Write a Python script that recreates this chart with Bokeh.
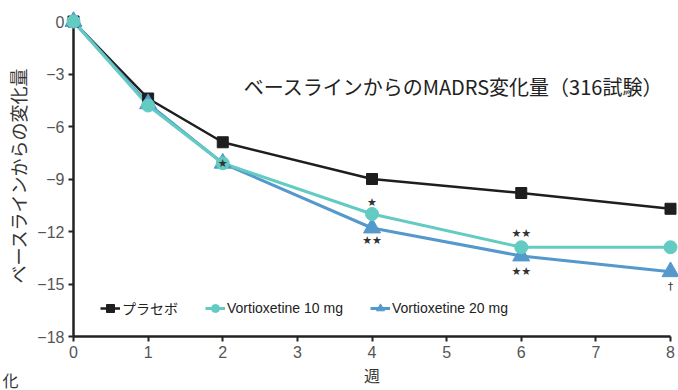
from bokeh.plotting import figure
from bokeh.models import Range1d, Legend, LegendItem, Label, ColumnDataSource, FixedTicker
from bokeh.embed import file_html
from bokeh.resources import INLINE
from bokeh.core.properties import value

weeks = [0, 1, 2, 4, 6, 8]
placebo = [0, -4.4, -6.9, -9.0, -9.8, -10.7]
vort10 = [0, -4.8, -8.1, -11.0, -12.9, -12.9]
vort20 = [0, -4.7, -8.1, -11.8, -13.4, -14.3]
x_ticks = [0, 1, 2, 3, 4, 5, 6, 7, 8]
y_ticks = [0, -3, -6, -9, -12, -15, -18]

# significance marks
ann_week = [2, 4, 4, 6, 6, 8]
ann_series = ["v10", "v10", "v20", "v10", "v20", "v20"]
ann_text = ["★", "★", "★★", "★★", "★★", "†"]
ann_pos = ["on", "above", "below", "above2", "below2", "below2"]

title_text = "ベースラインからのMADRS変化量（316試験）"
y_label = "ベースラインからの変化量"
x_label = "週"
corner_text = "化"
names = ["プラセボ", "Vortioxetine 10 mg", "Vortioxetine 20 mg"]

C_PLA = "#1e1e1e"
C_V10 = "#63cbc2"
C_V20 = "#5598cc"
JP = "'Liberation Sans', 'Noto Sans CJK JP'"

p = figure(width=678, height=390, output_backend="svg", toolbar_location=None, title=None,
           x_range=Range1d(0, 8), y_range=Range1d(-18, 0.4),
           min_border_left=73, min_border_right=8, min_border_top=14, min_border_bottom=54)
p.outline_line_color = None
p.grid.visible = False

for ax in (p.xaxis[0], p.yaxis[0]):
    ax.axis_line_width = 2.5
    ax.axis_line_color = "#222222"
    ax.major_tick_line_width = 2
    ax.major_tick_line_color = "#222222"
    ax.major_tick_out = 5
    ax.major_tick_in = 0
    ax.minor_tick_line_color = None
    ax.major_label_text_font = "Liberation Sans"
    ax.major_label_text_font_size = "16px"
    ax.major_label_text_color = "#555555"
    ax.axis_label_text_font = "Noto Sans CJK JP"
    ax.axis_label_text_font_style = "normal"
    ax.axis_label_text_color = "#333333"

p.yaxis[0].bounds = (-18, 0)
p.xaxis[0].ticker = FixedTicker(ticks=x_ticks)
p.yaxis[0].ticker = FixedTicker(ticks=y_ticks)
p.xaxis[0].major_label_standoff = 4
p.yaxis[0].major_label_standoff = 4
p.xaxis[0].axis_label = x_label
p.yaxis[0].axis_label = y_label
p.xaxis[0].axis_label_text_font_size = "16px"
p.yaxis[0].axis_label_text_font_size = "18px"
p.xaxis[0].axis_label_standoff = 2
p.yaxis[0].axis_label_standoff = 3

series = {"pla": placebo, "v10": vort10, "v20": vort20}

l_pla = p.line(weeks, placebo, line_color=C_PLA, line_width=2.5)
s_pla = p.scatter(weeks, placebo, marker="square", size=11, fill_color=C_PLA, line_color=C_PLA, level="overlay")
l_v20 = p.line(weeks, vort20, line_color=C_V20, line_width=3)
s_v20 = p.scatter(weeks, vort20, marker="triangle", size=17, fill_color=C_V20, line_color=C_V20, level="overlay")
l_v10 = p.line(weeks, vort10, line_color=C_V10, line_width=3)
s_v10 = p.scatter(weeks, vort10, marker="circle", size=13, fill_color=C_V10, line_color=C_V10, level="overlay")

# annotations
ax_, ay_, at_, ab_ = [], [], [], []
offs = {"on": 0, "above": -12, "below": 12, "above2": -14, "below2": 15}
for w, s, t, pos in zip(ann_week, ann_series, ann_text, ann_pos):
    ax_.append(w)
    ay_.append(series[s][weeks.index(w)])
    at_.append(t)
    ab_.append(offs[pos])
src = ColumnDataSource(dict(x=ax_, y=ay_, t=at_, yo=ab_))
p.text(x="x", y="y", text="t", y_offset="yo", source=src, text_align="center", text_baseline="middle",
       text_font=value("DejaVu Sans"), text_font_size="11px", text_color="#333333", level="overlay")

p.add_layout(Label(x=2.28, y=-3.7, text=title_text, text_font="Noto Sans CJK JP", text_font_size="20px",
                   text_color="#222222", text_baseline="middle"))

# stray fragment at the bottom-left corner, positioned relative to the axes origin
p.text(x=[x_ticks[0]], y=[y_ticks[-1]], text=[corner_text], x_offset=-71, y_offset=43,
       text_align="left", text_baseline="middle", text_font=value("Noto Sans CJK JP"),
       text_font_size="16px", text_color="#333333", level="overlay")

legend = Legend(items=[LegendItem(label=names[0], renderers=[l_pla, s_pla]),
                       LegendItem(label=names[1], renderers=[l_v10, s_v10]),
                       LegendItem(label=names[2], renderers=[l_v20, s_v20])],
                orientation="horizontal", location=(27, 18))
legend.background_fill_alpha = 0
legend.border_line_color = None
legend.padding = 0
legend.margin = 0
legend.spacing = 27
legend.glyph_width = 20
legend.label_standoff = 2
legend.label_text_font = JP
legend.label_text_font_size = "14px"
legend.label_text_color = "#222222"
p.add_layout(legend)

open("out.html", "w").write(file_html(p, INLINE))
